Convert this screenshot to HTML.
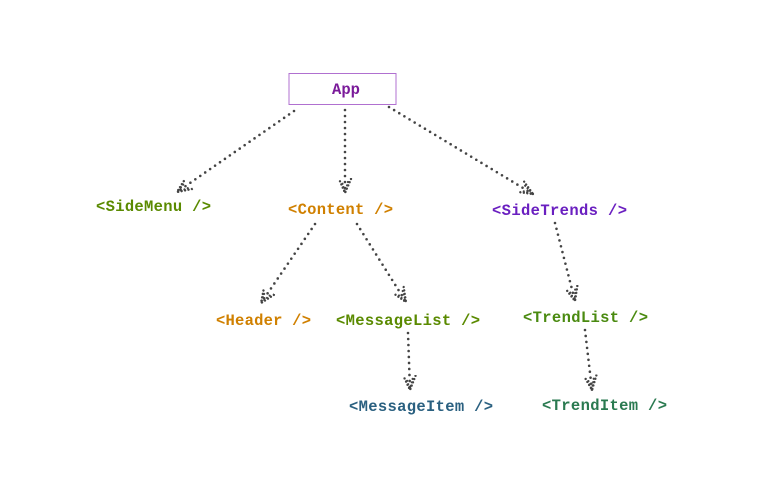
<!DOCTYPE html>
<html><head><meta charset="utf-8"><style>
html,body{margin:0;padding:0;background:#fff;width:757px;height:485px;overflow:hidden}
text{font-family:"Liberation Mono",monospace;font-size:15.5px;font-weight:bold}
</style></head><body>
<svg width="757" height="485" viewBox="0 0 757 485" xmlns="http://www.w3.org/2000/svg">
<defs>
<marker id="a" viewBox="0 0 16 16" refX="15" refY="8" markerWidth="16" markerHeight="16" markerUnits="userSpaceOnUse" orient="auto">
<path d="M1,2 L15,8 L1,14" fill="none" stroke="#444" stroke-width="2.4" stroke-linecap="round" stroke-dasharray="0 3.5"/>
<path d="M4,5 L15,8 L4,11" fill="none" stroke="#444" stroke-width="2.2" stroke-linecap="round" stroke-dasharray="0 3.5"/>
</marker>
</defs>
<rect x="289" y="73.5" width="107" height="31" fill="#fff" stroke="#b070d0" stroke-width="1"/>
<text x="346" y="94" text-anchor="middle" fill="#7a1a9a">App</text>
<g stroke="#444" stroke-width="2.6" stroke-dasharray="0 6" stroke-linecap="round" fill="none" marker-end="url(#a)">
<line x1="294" y1="111" x2="177" y2="192"/>
<line x1="345" y1="110" x2="345" y2="193"/>
<line x1="389" y1="107" x2="533" y2="194"/>
<line x1="315" y1="224" x2="261" y2="303"/>
<line x1="357" y1="224" x2="406" y2="302"/>
<line x1="555" y1="223" x2="575" y2="301"/>
<line x1="408" y1="333" x2="410" y2="390"/>
<line x1="585" y1="330" x2="592" y2="390"/>
</g>
<text x="96" y="211" textLength="115" fill="#5a8a00">&lt;SideMenu /&gt;</text>
<text x="288" y="214" textLength="105" fill="#d08000">&lt;Content /&gt;</text>
<text x="492" y="215" textLength="135" fill="#6a1fc0">&lt;SideTrends /&gt;</text>
<text x="216" y="325" textLength="95" fill="#d08000">&lt;Header /&gt;</text>
<text x="336" y="325" textLength="144" fill="#5a8a00">&lt;MessageList /&gt;</text>
<text x="523" y="322" textLength="125" fill="#4a8a10">&lt;TrendList /&gt;</text>
<text x="349" y="411" textLength="144" fill="#2a6080">&lt;MessageItem /&gt;</text>
<text x="542" y="410" textLength="125" fill="#2a7a50">&lt;TrendItem /&gt;</text>
</svg>
</body></html>
